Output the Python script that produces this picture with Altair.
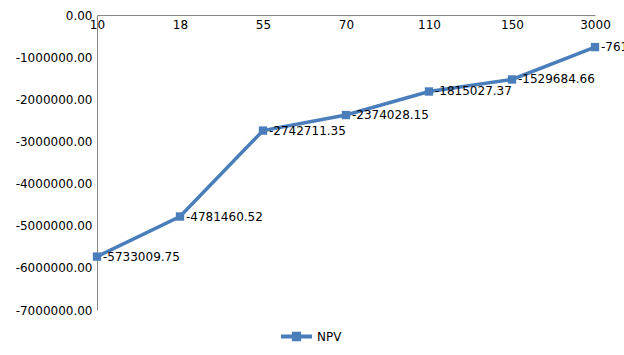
import altair as alt
import pandas as pd

categories = ["10", "18", "55", "70", "110", "150", "3000"]
npv = [-5733009.75, -4781460.52, -2742711.35, -2374028.15, -1815027.37, -1529684.66, -761254.30]
series = ["NPV"] * len(categories)
y_ticks = [0, -1000000, -2000000, -3000000, -4000000, -5000000, -6000000, -7000000]

df = pd.DataFrame({"cat": categories, "npv": npv, "series": series})
df["label"] = [f"{v:.2f}" for v in npv]

BLUE = "#4A7EBB"

x = alt.X("cat:N", sort=categories, title=None,
          scale=alt.Scale(type="point", padding=0),
          axis=alt.Axis(orient="bottom", offset=-295, labelAngle=0, ticks=False,
                        domainColor="#868686", domainWidth=1, labelPadding=4,
                        labelFontSize=12, labelFont="DejaVu Sans", labelColor="#000000"))
y = alt.Y("npv:Q", title=None,
          scale=alt.Scale(domain=[-7000000, 0], nice=False, zero=False),
          axis=alt.Axis(values=y_ticks, grid=False, ticks=False,
                        labelExpr="replace(format(datum.value, '.2f'), '\u2212', '-')",
                        domainColor="#868686", domainWidth=1, labelPadding=5,
                        labelFontSize=12, labelFont="DejaVu Sans", labelColor="#000000"))

color = alt.Color("series:N", title=None,
                  scale=alt.Scale(domain=["NPV"], range=[BLUE]),
                  legend=alt.Legend(orient="none", legendX=184, legendY=306,
                                    symbolType="M-1,-0.13H1V0.13H-1Z M-0.3,-0.3H0.3V0.3H-0.3Z",
                                    symbolSize=961, symbolFillColor=BLUE, symbolStrokeColor=BLUE,
                                    symbolStrokeWidth=0, labelFontSize=12, labelFont="DejaVu Sans",
                                    labelColor="#000000", labelOffset=5))

base = alt.Chart(df).encode(x=x, y=y)

line = base.mark_line(strokeWidth=3.5).encode(color=color)
pts = base.mark_point(shape="square", filled=True, size=70, opacity=1).encode(
    color=alt.Color("series:N", scale=alt.Scale(domain=["NPV"], range=[BLUE]), legend=None))
text = base.mark_text(align="left", baseline="middle", dx=6, fontSize=12,
                      font="DejaVu Sans", color="#000000").encode(text="label:N")

chart = alt.layer(line, pts, text).properties(
    width=498, height=295,
    autosize=alt.AutoSizeParams(type="none"),
    padding={"left": 97, "top": 15, "right": 29, "bottom": 45},
).configure(background="white", view=alt.ViewConfig(stroke=None))

chart.save("out.html", embed_options={"renderer": "svg", "actions": False})
